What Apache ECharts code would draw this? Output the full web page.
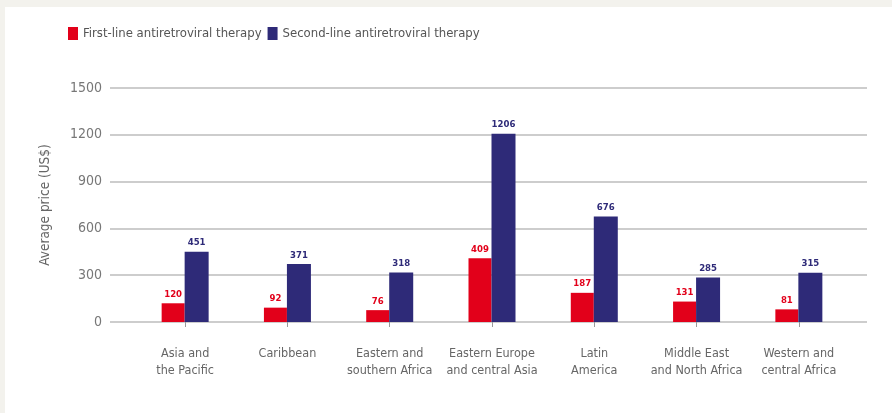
<!DOCTYPE html>
<html><head><meta charset="utf-8">
<script src="https://cdn.jsdelivr.net/npm/echarts@6/dist/echarts.min.js"></script>
<style>html,body{margin:0;padding:0;background:#f3f2ed}#c{width:892px;height:413px}</style>
</head><body><div id="c"></div>
<script>
const categories = ['Asia and\nthe Pacific','Caribbean','Eastern and\nsouthern Africa','Eastern Europe\nand central Asia','Latin\nAmerica','Middle East\nand North Africa','Western and\ncentral Africa'];
const firstLine = [120, 92, 76, 409, 187, 131, 81];
const secondLine = [451, 371, 318, 1206, 676, 285, 315];
const yTicks = [0, 300, 600, 900, 1200, 1500];

const FONT = '"DejaVu Sans Condensed", "Liberation Sans", sans-serif';
const RED = '#e2001a', BLUE = '#2e2a78';
const chart = echarts.init(document.getElementById('c'));
chart.setOption({
  backgroundColor: '#f3f2ed',
  animation: false,
  graphic: [{type:'rect', z:-10, shape:{x:5,y:7,width:900,height:420}, style:{fill:'#ffffff'}}],
  legend: {
    left: 63, top: 22, itemWidth: 10, itemHeight: 13, itemGap: 6, itemStyle:{borderRadius:0},
    textStyle: {fontFamily: FONT, fontSize: 13, color: '#555'},
    data: [{name:'First-line antiretroviral therapy', icon:'rect'},{name:'Second-line antiretroviral therapy', icon:'rect'}]
  },
  grid: [
    {left:110, right:25, top:88, bottom:91},
    {left:134, right:42, top:88, bottom:91}
  ],
  xAxis: [
    {type:'value', gridIndex:0, show:false, min:0, max:1},
    {type:'category', gridIndex:1, data: categories,
     axisLine:{show:false},
     axisTick:{show:true, alignWithLabel:true, length:5, lineStyle:{color:'#999'}},
     axisLabel:{fontFamily: FONT, fontSize:12.5, color:'#666', margin:23, lineHeight:17, interval:0}}
  ],
  yAxis: [
    {type:'value', gridIndex:0, min:0, max:1500, interval:300,
     name:'Average price (US$)', nameLocation:'middle', nameGap:58,
     nameTextStyle:{fontFamily: FONT, fontSize:13.5, color:'#666'},
     axisLine:{show:false}, axisTick:{show:false},
     axisLabel:{fontFamily: FONT, fontSize:14, color:'#777', margin:8,
       formatter: v => yTicks.includes(v) ? String(v) : ''},
     splitLine:{lineStyle:{color:'#bdbdbd', width:1.5}}},
    {type:'value', gridIndex:1, min:0, max:1500, interval:300, show:false, splitLine:{show:false}}
  ],
  series: [
    {name:'First-line antiretroviral therapy', type:'bar', xAxisIndex:1, yAxisIndex:1,
     data:firstLine, barWidth:23, barGap:'0%', itemStyle:{color:RED},
     label:{show:true, position:'top', distance:4, color:RED, fontWeight:'bold', fontSize:9.5, fontFamily:FONT}},
    {name:'Second-line antiretroviral therapy', type:'bar', xAxisIndex:1, yAxisIndex:1,
     data:secondLine, barWidth:24, barGap:'0%', itemStyle:{color:BLUE},
     label:{show:true, position:'top', distance:4, color:BLUE, fontWeight:'bold', fontSize:9.5, fontFamily:FONT}}
  ]
});
</script></body></html>
